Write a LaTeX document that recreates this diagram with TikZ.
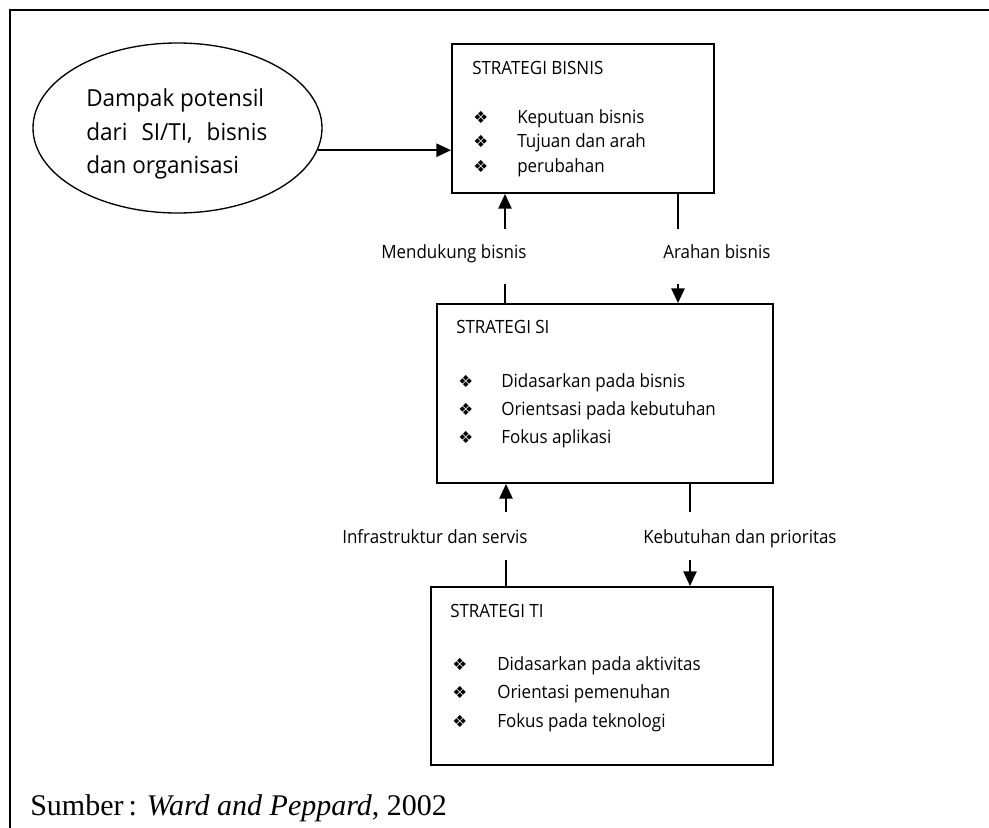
\documentclass[tikz,border=0pt]{standalone}
\usepackage{fontspec}
\setmainfont{Open Sans}
\newfontfamily\symfont{DejaVu Sans}
\newfontfamily\srcfont{Liberation Serif}
\newfontfamily\ellfont[FakeStretch=0.96]{Open Sans}
\newfontfamily\boxfont[FakeStretch=0.93]{Open Sans}
\usetikzlibrary{shapes.geometric,arrows.meta}
\begin{document}
\begin{tikzpicture}[x=0.75pt,y=-0.75pt,
  frame/.style={draw,line width=1.5pt},
  box/.style={draw,line width=1.5pt,inner sep=0pt},
  txt/.style={anchor=base west,inner sep=0pt,font=\boxfont\fontsize{13.7}{16}\selectfont},
  etxt/.style={anchor=base west,inner sep=0pt,font=\ellfont\fontsize{17.6}{20}\selectfont},
  bul/.style={anchor=base west,inner sep=0pt,font=\symfont\fontsize{12.5}{14}\selectfont},
  arr/.style={line width=1.1pt,-{Triangle[length=11pt,width=10pt]}},
  ln/.style={line width=1.1pt}]
\useasboundingbox (0,0) rectangle (989,828);
\clip (0,0) rectangle (989,828);
\draw[frame] (10,10) rectangle (1010,850);

% ellipse
\node[draw,ellipse,line width=1pt,minimum width=216.75pt,minimum height=127.5pt,inner sep=0pt] (ell) at (177.5,128) {};
\node[etxt] (e1) at (86,106) {Dampak potensil};
\node[etxt] (e2) at (86,140) {\makebox[135.75pt][s]{dari SI/TI, bisnis}};
\node[etxt] (e3) at (86,173) {dan organisasi};

% box 1
\node[box,minimum width=196.5pt,minimum height=111.75pt] (b1) at (583,118.5) {};
\node[txt] (b1t) at (472,74) {STRATEGI BISNIS};
\node[bul] (b1b1) at (473,123) {❖};
\node[bul] (b1b2) at (473,147) {❖};
\node[bul] (b1b3) at (473,172) {❖};
\node[txt] (b1i1) at (517,123) {Keputuan bisnis};
\node[txt] (b1i2) at (517,147) {Tujuan dan arah};
\node[txt] (b1i3) at (517,172) {perubahan};

% box 2
\node[box,minimum width=252pt,minimum height=134.25pt] (b2) at (605,393.5) {};
\node[txt] (b2t) at (456,333) {STRATEGI SI};
\node[bul] (b2b1) at (458,387) {❖};
\node[bul] (b2b2) at (458,415) {❖};
\node[bul] (b2b3) at (458,443) {❖};
\node[txt] (b2i1) at (501,387) {Didasarkan pada bisnis};
\node[txt] (b2i2) at (501,415) {Orientsasi pada kebutuhan};
\node[txt] (b2i3) at (501,443) {Fokus aplikasi};

% box 3
\node[box,minimum width=256pt,minimum height=133.5pt] (b3) at (602,676) {};
\node[txt] (b3t) at (450,617) {STRATEGI TI};
\node[bul] (b3b1) at (452,670) {❖};
\node[bul] (b3b2) at (452,698) {❖};
\node[bul] (b3b3) at (452,727) {❖};
\node[txt] (b3i1) at (497,670) {Didasarkan pada aktivitas};
\node[txt] (b3i2) at (497,698) {Orientasi pemenuhan};
\node[txt] (b3i3) at (497,727) {Fokus pada teknologi};

% labels
\node[txt] (l1) at (381,258) {Mendukung bisnis};
\node[txt] (l2) at (663,258) {Arahan bisnis};
\node[txt] (l3) at (342,543) {Infrastruktur dan servis};
\node[txt] (l4) at (643,543) {Kebutuhan dan prioritas};

% source
\node[anchor=base west,inner sep=0pt,font=\srcfont\fontsize{22.5}{26}\selectfont] (src) at (30,815) {Sumber\,: \textit{Ward and Peppard}, 2002};

% connectors
\draw[arr] (ell.-9) -- (ell.-9 -| b1.west);
\coordinate (m1) at (505,229); \coordinate (m2) at (505,284);
\draw[arr] (m1) -- (m1 |- b1.south);
\draw[ln] (m2) -- (m2 |- b2.north);
\coordinate (r1) at (678,229); \coordinate (r2) at (678,284);
\draw[ln] (r1 |- b1.south) -- (r1);
\draw[arr] (r2) -- (r2 |- b2.north);
\coordinate (m3) at (506,512); \coordinate (m4) at (506,560);
\draw[arr] (m3) -- (m3 |- b2.south);
\draw[ln] (m4) -- (m4 |- b3.north);
\coordinate (r3) at (690,512); \coordinate (r4) at (690,560);
\draw[ln] (r3 |- b2.south) -- (r3);
\draw[arr] (r4) -- (r4 |- b3.north);
\end{tikzpicture}
\end{document}
